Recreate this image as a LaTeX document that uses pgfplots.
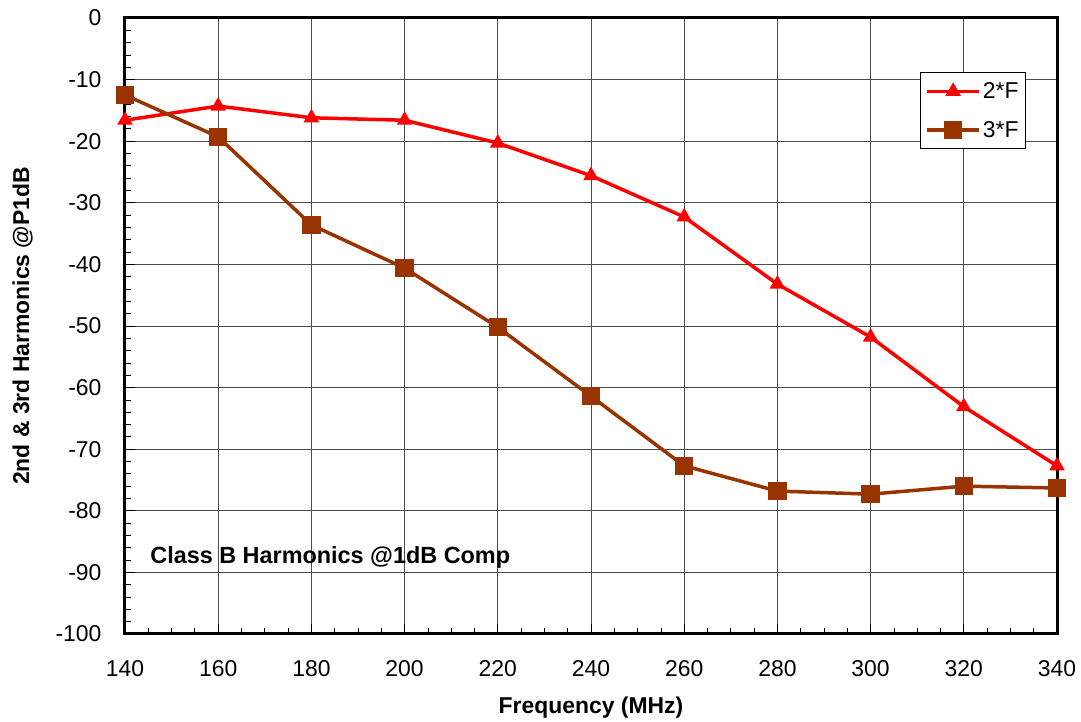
\documentclass[border=0pt]{standalone}
\usepackage{pgfplots}
\pgfplotsset{compat=1.18}
\usepackage{fontspec}
\setmainfont{Liberation Sans}
\definecolor{brn}{RGB}{153,51,0}
\begin{document}
\begin{tikzpicture}
\begin{axis}[
  scale only axis, width=932bp, height=616bp,
  xmin=140, xmax=340, ymin=-100, ymax=0,
  xtick={140,160,...,340}, ytick={-100,-90,...,0},
  minor x tick num=3, minor y tick num=4,
  tick align=inside, xtick pos=bottom, ytick pos=left,
  major tick length=10bp, minor tick length=6bp,
  every tick/.style={black, line width=0.8bp},
  grid=major, major grid style={black!70, line width=0.9bp},
  axis line style={line width=3bp},
  /pgf/number format/assume math mode=true,
  ticklabel style={font=\fontsize{23}{26}\selectfont},
  xticklabel style={yshift=-23bp},
  yticklabel style={xshift=-20bp},
  xlabel={\bfseries Frequency (MHz)},
  ylabel={\bfseries 2nd \& 3rd Harmonics @P1dB},
  label style={font=\fontsize{23}{26}\selectfont},
  xlabel style={yshift=-13bp},
  ylabel style={yshift=16bp},
  legend style={at={(0.853,0.912)}, anchor=north west, font=\fontsize{23}{26}\selectfont, draw=black, line width=0.8bp, row sep=17bp, inner xsep=5bp, inner ysep=8bp},
  legend image code/.code={\draw[mark repeat=2,mark phase=2,#1] plot coordinates {(0bp,0bp) (26bp,0bp) (52bp,0bp)};},
  legend cell align=left,
  clip=false,
]
\addplot[red, line width=3.5bp, mark=triangle*, mark size=5.5bp, mark options={solid}] coordinates {
(140,-16.6) (160,-14.3) (180,-16.2) (200,-16.6) (220,-20.3) (240,-25.6) (260,-32.3) (280,-43.2) (300,-51.8) (320,-63.1) (340,-72.7)};
\addlegendentry{2*F}
\addplot[brn, line width=3.5bp, mark=square*, mark size=7.5bp, mark options={solid}] coordinates {
(140,-12.5) (160,-19.3) (180,-33.6) (200,-40.6) (220,-50.2) (240,-61.4) (260,-72.7) (280,-76.8) (300,-77.3) (320,-76.0) (340,-76.3)};
\addlegendentry{3*F}
\node[anchor=west, font=\fontsize{23.5}{26}\selectfont\bfseries, inner sep=0pt] at (axis cs:145.4,-87.5) {Class B Harmonics @1dB Comp};
\path (rel axis cs:0,1) ++(-125bp,18bp);
\path (rel axis cs:1,0) ++(24bp,-87bp);
\end{axis}
\end{tikzpicture}
\end{document}
